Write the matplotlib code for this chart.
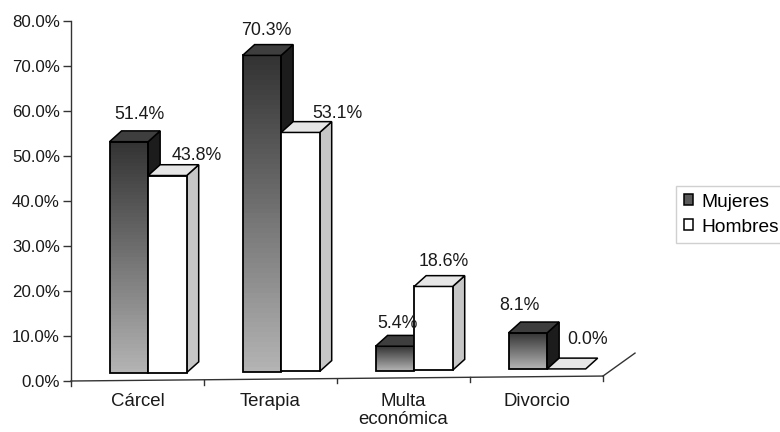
from matplotlib import pyplot as plt
from matplotlib.colors import LinearSegmentedColormap
from matplotlib.patches import Polygon, Rectangle, Patch
import numpy as np

categories = ["Cárcel", "Terapia", "Multa\neconómica", "Divorcio"]
mujeres = [51.4, 70.3, 5.4, 8.1]
hombres = [43.8, 53.1, 18.6, 0.0]
y_ticks = [0, 10, 20, 30, 40, 50, 60, 70, 80]

W, H = 780, 432
LEFT, RIGHT, BOTTOM, TOP = 71, 603, 381, 21

plt.rcParams["font.family"] = ["Liberation Sans", "DejaVu Sans"]
plt.rcParams["font.size"] = 12.8

fig = plt.figure(figsize=(W / 100, H / 100), dpi=100, facecolor="white")
ax = fig.add_axes([LEFT / W, 1 - BOTTOM / H, (RIGHT - LEFT) / W, (BOTTOM - TOP) / H])

# depth of the fake 3d, in data units
depth_x = 12 / 133
depth_y = 2.4
bar_w = 0.29
boundary = 0.58
tilt = 1.1  # the scan is slightly rotated
floor_base = 1.7

grad = LinearSegmentedColormap.from_list("g", ["#333333", "#737373", "#b4b4b4"])


def floor_at(x):
    return floor_base + tilt * x / 4


def draw_bar(x0, val, front, side, top, gradient=False):
    f = floor_at(x0)
    y1 = f + val
    x1 = x0 + bar_w
    if val > 0:
        if gradient:
            ax.imshow(np.linspace(0, 1, 64).reshape(-1, 1), cmap=grad, aspect="auto",
                      extent=(x0, x1, f, y1), origin="upper", zorder=2)
            ax.add_patch(Rectangle((x0, f), bar_w, val, fc="none", ec="black", lw=1.3, zorder=3))
        else:
            ax.add_patch(Rectangle((x0, f), bar_w, val, fc=front, ec="black", lw=1.3, zorder=3))
        ax.add_patch(Polygon([(x1, f), (x1 + depth_x, f + depth_y), (x1 + depth_x, y1 + depth_y), (x1, y1)],
                             fc=side, ec="black", lw=1.1, zorder=2))
    ax.add_patch(Polygon([(x0, y1), (x0 + depth_x, y1 + depth_y), (x1 + depth_x, y1 + depth_y), (x1, y1)],
                         fc=top, ec="black", lw=1.1, zorder=3))


# label offsets in pixels from the front top centre of each bar
off_m = [(11, 27), (4, 25), (3, 23), (-8, 27)]
off_h = [(29, 20), (37, 19), (10, 25), (21, 29)]

for i in range(len(categories)):
    x_mid = i + boundary
    draw_bar(x_mid - bar_w, mujeres[i], None, "#1c1c1c", "#3e3e3e", gradient=True)
    draw_bar(x_mid, hombres[i], "white", "#c6c6c6", "#e6e6e6")
    ax.annotate(f"{mujeres[i]:.1f}%", (x_mid - bar_w / 2, floor_at(x_mid - bar_w) + mujeres[i]),
                xytext=off_m[i], textcoords="offset pixels", ha="center", va="center",
                color="#1a1a1a", zorder=5)
    ax.annotate(f"{hombres[i]:.1f}%", (x_mid + bar_w / 2, floor_at(x_mid) + hombres[i]),
                xytext=off_h[i], textcoords="offset pixels", ha="center", va="center",
                color="#1a1a1a", zorder=5)

ax.set_xlim(0, 4)
ax.set_ylim(0, 80)

for s in ["top", "right", "bottom"]:
    ax.spines[s].set_visible(False)
ax.spines["left"].set_color("#333333")
ax.spines["left"].set_linewidth(1.0)

ax.set_yticks(y_ticks)
ax.set_yticklabels([f"{v:.1f}%" for v in y_ticks], color="#1a1a1a", fontsize=12.2)
ax.tick_params(axis="y", length=6, width=1, color="#333333", pad=2)

# floor line, its ticks and the back edge
ax.plot([0, 4], [0, tilt], color="#333333", lw=1.0, clip_on=False, zorder=1)
for t in range(5):
    ax.plot([t, t], [tilt * t / 4, tilt * t / 4 - 1.1], color="#333333", lw=1.0, clip_on=False)
ax.plot([4, 4 + 32 / 133], [tilt, tilt + 5.1], color="#333333", lw=1.0, clip_on=False)

ax.set_xticks(np.arange(len(categories)) + 0.5)
ax.set_xticklabels(categories, color="#1a1a1a", linespacing=1.05, fontsize=13.4)
ax.tick_params(axis="x", length=0, pad=9)

handles = [Patch(fc="#5a5a5a", ec="black", lw=1.1), Patch(fc="white", ec="black", lw=1.1)]
fig.legend(handles, ["Mujeres", "Hombres"], loc="upper left", fontsize=13.8,
           bbox_to_anchor=(676 / W, 1 - 186 / H), bbox_transform=fig.transFigure,
           frameon=True, fancybox=False, edgecolor="#d0d0d0", framealpha=1,
           handlelength=0.5, handleheight=0.5, handletextpad=0.4, labelspacing=0.42,
           borderpad=0.4, borderaxespad=0)

fig.savefig("out.png", dpi=100)
